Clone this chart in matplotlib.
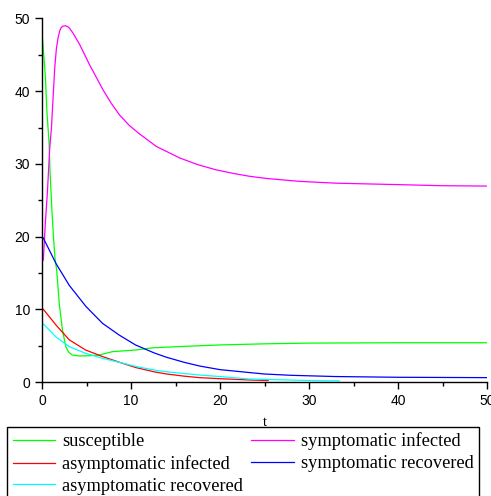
import matplotlib.pyplot as plt
from matplotlib.ticker import MultipleLocator

# values
t_sus = [0, 0.1, 0.38, 0.56, 0.79, 0.9, 1.12, 1.27, 1.46, 1.65, 1.94, 2.3, 2.67, 3.0, 3.4, 4.2, 5.0, 6.4, 7.9, 10.5, 12.4, 15, 20, 25, 30, 40, 50]
sus = [48.2, 46.5, 42.0, 37.0, 33.0, 29.0, 23.5, 20.3, 17.0, 15.4, 10.8, 7.15, 4.86, 4.1, 3.7, 3.58, 3.6, 3.7, 4.17, 4.4, 4.7, 4.85, 5.1, 5.25, 5.35, 5.4, 5.4]

t_si = [0, 0.15, 0.37, 0.6, 0.87, 1.06, 1.24, 1.43, 1.62, 1.8, 1.99, 2.15, 2.35, 2.66, 3.0, 3.48, 4.24, 5.36, 6.85, 7.8, 8.73, 9.8, 10.98, 12.85, 15.5, 17.5, 19.5, 21.45, 23.3, 25.2, 28.9, 33, 40, 45, 50]
si = [16.5, 16.8, 21.8, 26.0, 32.2, 34.9, 39.0, 43.2, 45.9, 47.3, 48.3, 48.75, 48.95, 49.0, 48.8, 48.0, 46.4, 43.6, 40.2, 38.3, 36.7, 35.3, 34.1, 32.4, 30.8, 29.9, 29.2, 28.7, 28.3, 28.0, 27.6, 27.35, 27.15, 27.0, 26.95]

t_ai = [0, 0.15, 1.57, 3.06, 4.9, 6.8, 9.05, 10.5, 12.6, 14, 16, 17.7, 20, 23.3, 25.4]
ai = [10.1, 10.0, 7.84, 5.8, 4.4, 3.5, 2.57, 2.0, 1.4, 1.1, 0.8, 0.6, 0.45, 0.28, 0.2]

t_sr = [0, 0.15, 1.57, 3.06, 4.93, 6.8, 8.67, 10.5, 12.6, 14, 16, 17.7, 20, 23.3, 25, 28, 33, 40, 50]
sr = [20.0, 19.8, 16.3, 13.3, 10.4, 8.07, 6.46, 5.1, 4.0, 3.4, 2.7, 2.2, 1.7, 1.3, 1.1, 0.92, 0.75, 0.65, 0.6]

t_ar = [0, 0.15, 1.57, 3.06, 4.9, 6.8, 9.05, 10.5, 12.6, 14, 17.7, 20, 23.3, 27, 30, 33.4]
ar = [8.0, 7.98, 6.2, 4.86, 3.95, 3.26, 2.6, 2.15, 1.65, 1.4, 0.96, 0.75, 0.41, 0.3, 0.2, 0.15]

fig = plt.figure(figsize=(4.91, 4.96), dpi=100)
ax = fig.add_axes([42/491, 1-382/496, 445/491, 363.5/496])

lw = 0.9
ax.plot(t_sus, sus, color='#00ff00', lw=lw, label='susceptible')
ax.plot(t_ai, ai, color='#ff0000', lw=lw, label='asymptomatic infected')
ax.plot(t_ar, ar, color='#00ffff', lw=lw, label='asymptomatic recovered')
ax.plot(t_si, si, color='#ff00ff', lw=lw, label='symptomatic infected')
ax.plot(t_sr, sr, color='#0000ff', lw=lw, label='symptomatic recovered')

ax.set_xlim(0, 50)
ax.set_ylim(0, 50)
ax.spines['top'].set_visible(False)
ax.spines['right'].set_visible(False)
ax.spines['left'].set_linewidth(1)
ax.spines['bottom'].set_linewidth(1)
ax.xaxis.set_major_locator(MultipleLocator(10))
ax.xaxis.set_minor_locator(MultipleLocator(5))
ax.yaxis.set_major_locator(MultipleLocator(10))
ax.yaxis.set_minor_locator(MultipleLocator(5))
ax.tick_params(which='major', length=5, width=1, pad=3.5)
ax.tick_params(which='minor', length=3, width=1)
for lab in ax.get_xticklabels() + ax.get_yticklabels():
    lab.set_family('Liberation Sans')
    lab.set_fontsize(10)

ax.set_xlabel('t', family='Liberation Serif', fontsize=10.5, labelpad=6)

fig.legend(loc='upper left', bbox_to_anchor=(7/491, 1-427/496), ncol=2,
           prop={'family': 'Liberation Serif', 'size': 13.25},
           frameon=True, fancybox=False, edgecolor='black', framealpha=1,
           handlelength=2.3, handletextpad=0.4, columnspacing=0.45,
           labelspacing=0.26, borderpad=0.3, borderaxespad=0)
fig.legends[0].get_frame().set_linewidth(1)

fig.savefig('out.png', dpi=100)
